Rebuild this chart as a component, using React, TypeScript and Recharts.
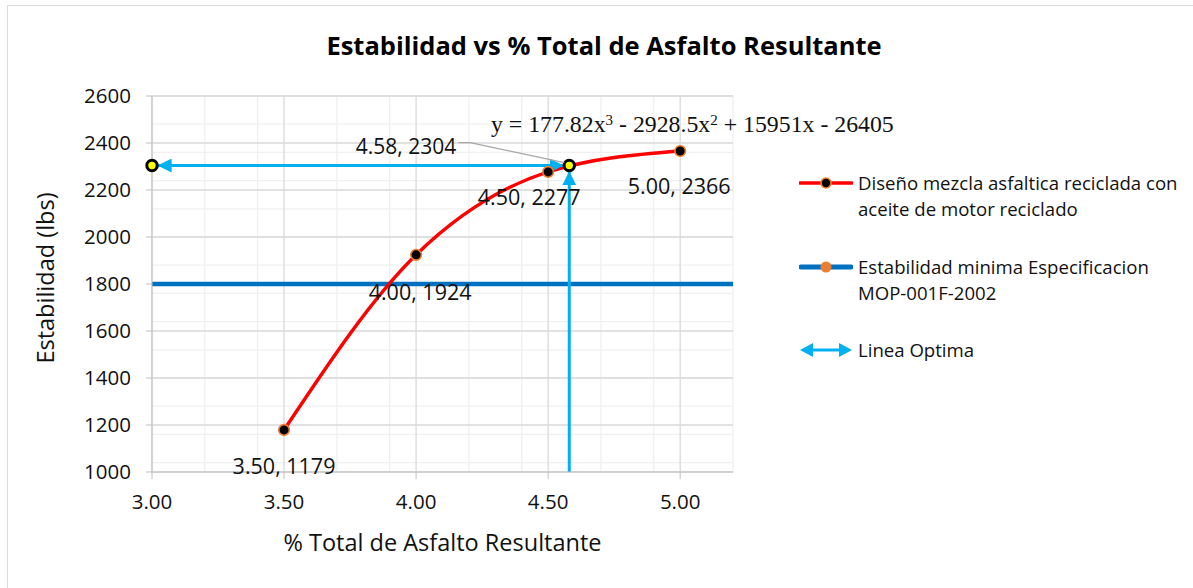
import React from "react";
import { ComposedChart, Line, XAxis, YAxis, CartesianGrid, LabelList } from "recharts";

// % total de asfalto vs estabilidad (lbs)
const asfalto = [3.5, 4.0, 4.5, 5.0];
const estabilidad = [1179, 1924, 2277, 2366];
const estabilidadMinima = 1800;
const optimoAsfalto = 4.58;
const optimoEstabilidad = 2304;

const xDomain = [3, 5.2];
const yDomain = [1000, 2600];
const xTicks = [3, 3.5, 4, 4.5, 5];
const yTicks = [1000, 1200, 1400, 1600, 1800, 2000, 2200, 2400, 2600];
const xMinor = [3.1, 3.2, 3.3, 3.4, 3.6, 3.7, 3.8, 3.9, 4.1, 4.2, 4.3, 4.4, 4.6, 4.7, 4.8, 4.9, 5.1, 5.2];
const yMinor = Array.from({ length: 41 }, (_, i) => 1000 + i * 40);

const ecuacion = ["y = 177.82x", "3", " - 2928.5x", "2", " + 15951x - 26405"];
const titulo = "Estabilidad vs % Total de Asfalto Resultante";
const leyenda = [
  ["Diseño mezcla asfaltica reciclada con", "aceite de motor reciclado"],
  ["Estabilidad minima Especificacion", "MOP-001F-2002"],
  ["Linea Optima"],
];

const mezcla = asfalto.map((x, i) => ({ x, y: estabilidad[i] }));
const minima = xDomain.map((x) => ({ x, y: estabilidadMinima }));
const optHorizontal = [
  { x: xDomain[0], y: optimoEstabilidad },
  { x: optimoAsfalto, y: optimoEstabilidad },
];
const optVertical = [
  { x: optimoAsfalto, y: yDomain[0] },
  { x: optimoAsfalto, y: optimoEstabilidad },
];

const FONT = "'Open Sans', Lato, sans-serif";
const RED = "#FF0000";
const ORANGE = "#ED7D31";
const BLUE = "#0070C0";
const CYAN = "#00B0F0";

// label offsets for the data labels of the red series
const labelOffsets = [
  [0, 36],
  [4, 37],
  [-19, 25],
  [-1, 35],
];

const fmt = (v: number) => v.toFixed(2);

function MezclaLabel(props: any) {
  const { x, y, index, value } = props;
  const i = typeof index === "number" ? index : estabilidad.indexOf(value);
  const [dx, dy] = labelOffsets[i] || [0, 30];
  return (
    <text
      x={x + dx}
      y={y + dy}
      textAnchor="middle"
      dominantBaseline="central"
      fontFamily={FONT}
      fontSize={21.5}
      fill="#111"
    >
      {`${fmt(mezcla[i].x)}, ${mezcla[i].y}`}
    </text>
  );
}

function OptimoLabel(props: any) {
  const { x, y, index } = props;
  if (index !== 1) return null;
  return (
    <g>
      <polyline
        points={`${x - 111},${y - 23} ${x - 99},${y - 23} ${x - 5},${y - 3}`}
        fill="none"
        stroke="#A6A6A6"
        strokeWidth={1.2}
      />
      <text
        x={x - 113}
        y={y - 20}
        textAnchor="end"
        dominantBaseline="central"
        fontFamily={FONT}
        fontSize={21}
        fill="#111"
      >
        {`${fmt(optimoAsfalto)}, ${optimoEstabilidad}`}
      </text>
    </g>
  );
}

function MezclaDot(props: any) {
  const { cx, cy } = props;
  return <circle cx={cx} cy={cy} r={5.3} fill="#000" stroke={ORANGE} strokeWidth={1.6} />;
}

function OptimoDot(props: any) {
  const { cx, cy } = props;
  return <circle cx={cx} cy={cy} r={5.2} fill="#FFFF00" stroke="#000" strokeWidth={3} />;
}

function LegendIcon({ kind }: { kind: number }) {
  if (kind === 0) {
    return (
      <svg width={54} height={20}>
        <line x1={1} y1={10} x2={53} y2={10} stroke={RED} strokeWidth={3.5} strokeLinecap="round" />
        <circle cx={27} cy={10} r={5} fill="#000" stroke={ORANGE} strokeWidth={1.6} />
      </svg>
    );
  }
  if (kind === 1) {
    return (
      <svg width={54} height={20}>
        <line x1={2} y1={10} x2={52} y2={10} stroke={BLUE} strokeWidth={5} strokeLinecap="round" />
        <circle cx={27} cy={10} r={5.5} fill={ORANGE} />
      </svg>
    );
  }
  return (
    <svg width={54} height={20}>
      <line x1={12} y1={10} x2={42} y2={10} stroke={CYAN} strokeWidth={3} />
      <path d="M1,10 L14,3 L14,17 Z" fill={CYAN} />
      <path d="M53,10 L40,3 L40,17 Z" fill={CYAN} />
    </svg>
  );
}

export default function App() {
  const legendTops = [170, 254, 337];
  return (
    <div
      style={{
        position: "relative",
        width: 1193,
        height: 588,
        overflow: "hidden",
        background: "#fff",
        fontFamily: FONT,
      }}
    >
      <style>{"body{margin:0}"}</style>
      <div
        style={{
          position: "absolute",
          left: 7,
          top: 5,
          width: 1200,
          height: 600,
          border: "1px solid #D9D9D9",
        }}
      />
      <div
        style={{
          position: "absolute",
          left: 0,
          width: 1208,
          top: 29,
          textAlign: "center",
          fontSize: 25.5,
          fontWeight: 700,
          lineHeight: "32px",
          color: "#000",
        }}
      >
        {titulo}
      </div>
      <ComposedChart
        width={1193}
        height={588}
        margin={{ top: 96, right: 460, bottom: 0, left: 0 }}
        style={{ position: "absolute", left: 0, top: 0 }}
      >
        <defs>
          <marker
            id="flecha"
            viewBox="0 0 10 10"
            refX={14}
            refY={5}
            markerWidth={14}
            markerHeight={14}
            markerUnits="userSpaceOnUse"
            orient="auto-start-reverse"
          >
            <path d="M0,0 L10,5 L0,10 Z" fill={CYAN} />
          </marker>
        </defs>
        <CartesianGrid
          horizontalValues={yMinor}
          verticalValues={xMinor}
          stroke="#F0F0F0"
          strokeWidth={1.3}
          syncWithTicks={false}
        />
        <CartesianGrid
          horizontalValues={yTicks}
          verticalValues={xTicks}
          stroke="#D9D9D9"
          strokeWidth={1.3}
          syncWithTicks={false}
        />
        <XAxis
          type="number"
          dataKey="x"
          domain={xDomain}
          ticks={xTicks}
          tickFormatter={fmt}
          height={116}
          stroke="#BFBFBF"
          tickSize={7}
          tickMargin={15}
          tick={{ fill: "#111", fontSize: 20.5, fontFamily: FONT }}
          label={{
            content: (p: any) => {
              const vb = p.viewBox || {};
              return (
                <text
                  x={vb.x + vb.width / 2}
                  y={vb.y + 70}
                  textAnchor="middle"
                  dominantBaseline="central"
                  fontFamily={FONT}
                  fontSize={23.5}
                  fill="#111"
                >
                  % Total de Asfalto Resultante
                </text>
              );
            },
          }}
        />
        <YAxis
          type="number"
          domain={yDomain}
          ticks={yTicks}
          width={152}
          stroke="#BFBFBF"
          tickSize={6}
          tickMargin={15}
          tick={{ fill: "#111", fontSize: 20.5, fontFamily: FONT }}
          label={{
            content: (p: any) => {
              const vb = p.viewBox || {};
              const cx = vb.x + 45;
              const cy = vb.y + vb.height / 2 - 6;
              return (
                <text
                  x={cx}
                  y={cy}
                  transform={`rotate(-90 ${cx} ${cy})`}
                  textAnchor="middle"
                  dominantBaseline="central"
                  fontFamily={FONT}
                  fontSize={23.5}
                  fill="#111"
                >
                  Estabilidad (lbs)
                </text>
              );
            },
          }}
        />
        <Line
          data={minima}
          dataKey="y"
          stroke={BLUE}
          strokeWidth={4.5}
          dot={false}
          activeDot={false}
          isAnimationActive={false}
        />
        <Line
          data={mezcla}
          dataKey="y"
          type="monotone"
          stroke={RED}
          strokeWidth={3.5}
          dot={<MezclaDot />}
          activeDot={false}
          isAnimationActive={false}
        >
          <LabelList dataKey="y" content={<MezclaLabel />} />
        </Line>
        <Line
          data={optVertical}
          dataKey="y"
          stroke={CYAN}
          strokeWidth={3}
          dot={false}
          activeDot={false}
          markerEnd="url(#flecha)"
          isAnimationActive={false}
        />
        <Line
          data={optHorizontal}
          dataKey="y"
          stroke={CYAN}
          strokeWidth={3}
          dot={false}
          activeDot={false}
          markerStart="url(#flecha)"
          markerEnd="url(#flecha)"
          isAnimationActive={false}
        />
        <Line
          data={optHorizontal}
          dataKey="y"
          stroke="none"
          dot={<OptimoDot />}
          activeDot={false}
          isAnimationActive={false}
        >
          <LabelList dataKey="y" content={<OptimoLabel />} />
        </Line>
      </ComposedChart>
      <div
        style={{
          position: "absolute",
          left: 491,
          top: 106,
          fontFamily: "'Liberation Serif', 'Times New Roman', serif",
          fontSize: 23.8,
          lineHeight: "28px",
          color: "#111",
          whiteSpace: "nowrap",
        }}
      >
        {ecuacion[0]}
        <sup style={{ fontSize: 15, verticalAlign: 7 }}>{ecuacion[1]}</sup>
        {ecuacion[2]}
        <sup style={{ fontSize: 15, verticalAlign: 7 }}>{ecuacion[3]}</sup>
        {ecuacion[4]}
      </div>
      {leyenda.map((lines, k) => (
        <div
          key={k}
          style={{
            position: "absolute",
            left: 799,
            top: legendTops[k],
            display: "flex",
            alignItems: "flex-start",
          }}
        >
          <div style={{ width: 59, height: 25, display: "flex", alignItems: "center" }}>
            <LegendIcon kind={k} />
          </div>
          <div style={{ fontSize: 18.6, lineHeight: "25.5px", color: "#111", whiteSpace: "nowrap" }}>
            {lines.map((t, j) => (
              <div key={j}>{t}</div>
            ))}
          </div>
        </div>
      ))}
    </div>
  );
}
